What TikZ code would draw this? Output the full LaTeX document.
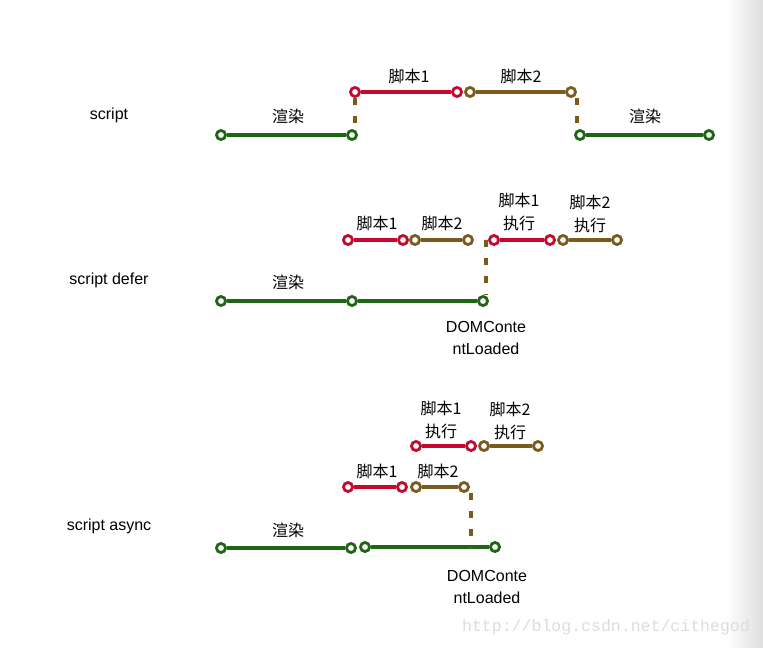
\documentclass[tikz,border=0pt]{standalone}
\usepackage{fontspec}
\setmainfont{Liberation Sans}
\newfontfamily\cjk{Noto Sans CJK SC}
\newfontfamily\wmfont{Liberation Mono}
\usepackage{tikz}
\usetikzlibrary{positioning,calc}
\definecolor{JsRed}{HTML}{C4082E}
\definecolor{JsBrown}{HTML}{7B5A1E}
\definecolor{Render}{HTML}{1F6614}
\definecolor{Mark}{HTML}{DCDCDC}

\begin{document}
\begin{tikzpicture}[x=0.75pt,y=-0.75pt,font=\fontsize{12pt}{17pt}\selectfont,
    pt/.style={circle,draw,fill=white,line width=2.1pt,inner sep=0pt,minimum size=6.8pt},
    ren/.style={pt,draw=Render},
    jsa/.style={pt,draw=JsRed},
    jsb/.style={pt,draw=JsBrown},
    trk/.style={line width=2.3pt},
    wait/.style={JsBrown,line width=2.3pt,dash pattern=on 5pt off 8.5pt},
    lbl/.style={font=\cjk\fontsize{12pt}{17pt}\selectfont,align=center,inner sep=0pt}]
  \useasboundingbox (0,0) rectangle (763,647);
  \shade[left color=white,right color=black!13] (726,0) rectangle (763,647);

  % script
  \node (T1) at (109,115) {script};
  \node[ren] (G1a) at (221,135) {};
  \node[ren] (G1b) at (352,135) {};
  \node[jsa] (R1a) at (355,92) {};
  \node[jsa] (R1b) at (457,92) {};
  \node[jsb] (B1a) at (470,92) {};
  \node[jsb] (B1b) at (571,92) {};
  \node[ren] (G1c) at (580,135) {};
  \node[ren] (G1d) at (709,135) {};
  \coordinate (D1) at (577,135);
  \draw[trk,Render] (G1a) -- (G1b);
  \draw[trk,JsRed] (R1a) -- (R1b);
  \draw[trk,JsBrown] (B1a) -- (B1b);
  \draw[trk,Render] (G1c) -- (G1d);
  \draw[wait] (R1a.south) -- (R1a.south |- G1b.north);
  \draw[wait] (D1 |- B1b.south) -- (D1 |- G1c.north);
  \node[lbl] (L1a) at (288,116) {渲染};
  \node[lbl] (L1b) at (409,76) {脚本1};
  \node[lbl] (L1c) at (521,76) {脚本2};
  \node[lbl] (L1d) at (645,116) {渲染};

  % script defer
  \node (T2) at (109,280) {script defer};
  \node[ren] (G2a) at (221,301) {};
  \node[ren] (G2b) at (352,301) {};
  \node[ren] (G2c) at (483,301) {};
  \node[jsa] (R2a) at (348,240) {};
  \node[jsa] (R2b) at (403,240) {};
  \node[jsb] (B2a) at (415,240) {};
  \node[jsb] (B2b) at (468,240) {};
  \node[jsa] (R2c) at (494,240) {};
  \node[jsa] (R2d) at (550,240) {};
  \node[jsb] (B2c) at (563,240) {};
  \node[jsb] (B2d) at (617,240) {};
  \coordinate (D2) at (486,240);
  \draw[trk,Render] (G2a) -- (G2b);
  \draw[trk,Render] (G2b) -- (G2c);
  \draw[trk,JsRed] (R2a) -- (R2b);
  \draw[trk,JsBrown] (B2a) -- (B2b);
  \draw[trk,JsRed] (R2c) -- (R2d);
  \draw[trk,JsBrown] (B2c) -- (B2d);
  \draw[wait] (D2) -- (D2 |- G2c.north);
  \node[lbl] (L2a) at (288,282) {渲染};
  \node[lbl] (L2b) at (377,223) {脚本1};
  \node[lbl] (L2c) at (442,223) {脚本2};
  \node[lbl] (L2d) at (519,212) {脚本1\\执行};
  \node[lbl] (L2e) at (590,214) {脚本2\\执行};
  \node[align=center,inner sep=0pt] (M2) at (486,338) {DOMConte\\ntLoaded};

  % script async
  \node (T3) at (109,526) {script async};
  \node[ren] (G3a) at (221,548) {};
  \node[ren] (G3b) at (351,548) {};
  \node[ren] (G3c) at (365,547) {};
  \node[ren] (G3d) at (495,547) {};
  \node[jsa] (R3a) at (348,487) {};
  \node[jsa] (R3b) at (402,487) {};
  \node[jsb] (B3a) at (416,487) {};
  \node[jsb] (B3b) at (464,487) {};
  \node[jsa] (R3c) at (416,446) {};
  \node[jsa] (R3d) at (471,446) {};
  \node[jsb] (B3c) at (484,446) {};
  \node[jsb] (B3d) at (538,446) {};
  \coordinate (D3) at (471,547);
  \draw[trk,Render] (G3a) -- (G3b);
  \draw[trk,Render] (G3c) -- (G3d);
  \draw[trk,JsRed] (R3a) -- (R3b);
  \draw[trk,JsBrown] (B3a) -- (B3b);
  \draw[trk,JsRed] (R3c) -- (R3d);
  \draw[trk,JsBrown] (B3c) -- (B3d);
  \draw[wait] (D3 |- B3b.south) -- (D3);
  \node[lbl] (L3a) at (288,530) {渲染};
  \node[lbl] (L3b) at (377,471) {脚本1};
  \node[lbl] (L3c) at (438,471) {脚本2};
  \node[lbl] (L3d) at (441,420) {脚本1\\执行};
  \node[lbl] (L3e) at (510,421) {脚本2\\执行};
  \node[align=center,inner sep=0pt] (M3) at (487,587) {DOMConte\\ntLoaded};

  \node[font=\wmfont\fontsize{12.4pt}{14pt}\selectfont,text=Mark] (WM) at (606,627) {http://blog.csdn.net/cithegod};
\end{tikzpicture}
\end{document}
